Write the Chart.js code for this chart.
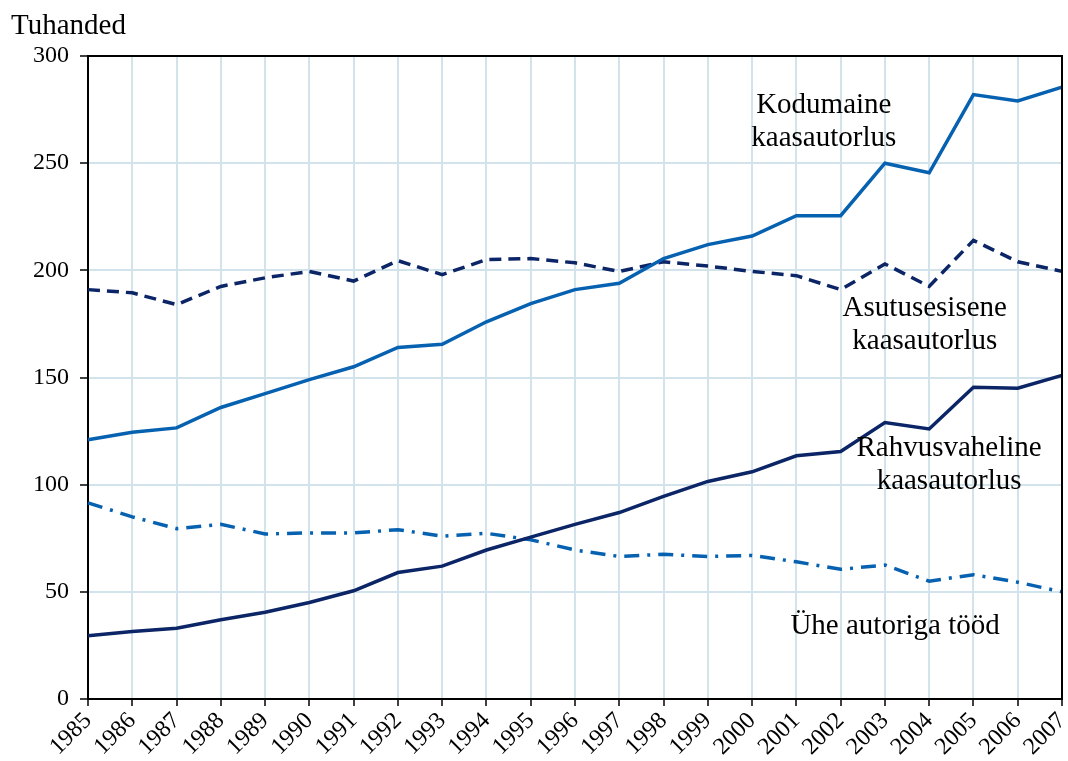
<!DOCTYPE html>
<html>
<head>
<meta charset="utf-8">
<script src="https://cdn.jsdelivr.net/npm/chart.js@4"></script>
<style>
  html, body { margin: 0; padding: 0; background: #fff; }
  canvas { display: block; }
</style>
</head>
<body>
<canvas id="chart" width="1068" height="761"></canvas>
<script>
const years = ['1985','1986','1987','1988','1989','1990','1991','1992','1993','1994','1995','1996',
  '1997','1998','1999','2000','2001','2002','2003','2004','2005','2006','2007'];

const kodumaine = [121, 124.5, 126.5, 136, 142.5, 149, 155, 164, 165.5, 176, 184.5, 191,
  194, 205.5, 212, 216, 225.5, 225.5, 250, 245.5, 282, 279, 285.5];
const asutusesisene = [191, 189.5, 184, 192.5, 196.5, 199.5, 195, 204.5, 198, 205, 205.5, 203.5,
  199.5, 204, 202, 199.5, 197.5, 191, 203, 192.5, 214, 204, 199.5];
const rahvusvaheline = [29.5, 31.5, 33, 37, 40.5, 45, 50.5, 59, 62, 69.5, 75.5, 81.5,
  87, 94.5, 101.5, 106, 113.5, 115.5, 129, 126, 145.5, 145, 151];
const uheAutoriga = [91.5, 85, 79.5, 81.5, 77, 77.5, 77.5, 79, 76, 77.3, 74.3, 69.5,
  66.5, 67.5, 66.5, 67, 64, 60.5, 62.5, 55, 58, 54.5, 50];

const yTicks = [0, 50, 100, 150, 200, 250, 300];

// text labels placed in data units (x = year index, y = value)
const notes = [
  { x: 16.62, y: 273.5, lines: ['Kodumaine', 'kaasautorlus'] },
  { x: 18.9, y: 178.5, lines: ['Asutusesisene', 'kaasautorlus'] },
  { x: 19.45, y: 113.5, lines: ['Rahvusvaheline', 'kaasautorlus'] },
  { x: 18.23, y: 30.5, lines: ['Ühe autoriga tööd'] }
];

const serif = '"Liberation Serif", "Times New Roman", serif';
const midBlue = '#0661b1';
const navy = '#0b2566';

const extras = {
  id: 'extras',
  afterDatasetsDraw(chart) {
    const { ctx, chartArea: a, scales } = chart;
    ctx.save();
    ctx.strokeStyle = '#000';
    ctx.lineWidth = 2;
    ctx.beginPath();
    ctx.moveTo(a.left, a.top);
    ctx.lineTo(a.right, a.top);
    ctx.lineTo(a.right, a.bottom);
    ctx.stroke();

    ctx.fillStyle = '#000';
    ctx.font = '29px ' + serif;
    ctx.textAlign = 'center';
    ctx.textBaseline = 'alphabetic';
    notes.forEach(n => {
      const px = scales.x.getPixelForValue(n.x);
      const py = scales.y.getPixelForValue(n.y);
      n.lines.forEach((t, i) => ctx.fillText(t, px, py + i * 33));
    });

    ctx.font = '29px ' + serif;
    ctx.textAlign = 'left';
    ctx.fillText('Tuhanded', 11, 34);
    ctx.restore();
  }
};

new Chart(document.getElementById('chart'), {
  type: 'line',
  data: {
    labels: years,
    datasets: [
      { label: 'Kodumaine kaasautorlus', data: kodumaine, borderColor: midBlue, borderWidth: 3.5 },
      { label: 'Asutusesisene kaasautorlus', data: asutusesisene, borderColor: navy, borderWidth: 3.5, borderDash: [12, 7] },
      { label: 'Rahvusvaheline kaasautorlus', data: rahvusvaheline, borderColor: navy, borderWidth: 3.5 },
      { label: 'Ühe autoriga tööd', data: uheAutoriga, borderColor: midBlue, borderWidth: 3.5, borderDash: [15, 8, 3, 8] }
    ]
  },
  options: {
    responsive: false,
    animation: false,
    layout: { padding: { top: 56, right: 6, left: 0, bottom: 0 } },
    elements: { point: { radius: 0 }, line: { tension: 0 } },
    plugins: { legend: { display: false }, tooltip: { enabled: false } },
    scales: {
      x: {
        offset: false,
        grid: { color: '#d3e3eb', lineWidth: 2, tickColor: '#000', tickLength: 7, tickWidth: 1.5 },
        border: { color: '#000', width: 2 },
        ticks: {
          color: '#000', font: { family: serif, size: 24 },
          minRotation: 45, maxRotation: 45, autoSkip: false, padding: 1
        },
        afterFit: s => { s.height = 62; s.paddingLeft = 0; s.paddingRight = 0; }
      },
      y: {
        min: 0,
        max: 300,
        afterBuildTicks: s => { s.ticks = yTicks.map(v => ({ value: v })); },
        grid: { color: '#d3e3eb', lineWidth: 2, tickColor: '#000', tickLength: 8, tickWidth: 1.5 },
        border: { color: '#000', width: 2 },
        ticks: { color: '#000', font: { family: serif, size: 24 }, padding: 11 },
        afterFit: s => { s.width = 88; }
      }
    }
  },
  plugins: [extras]
});
</script>
</body>
</html>
